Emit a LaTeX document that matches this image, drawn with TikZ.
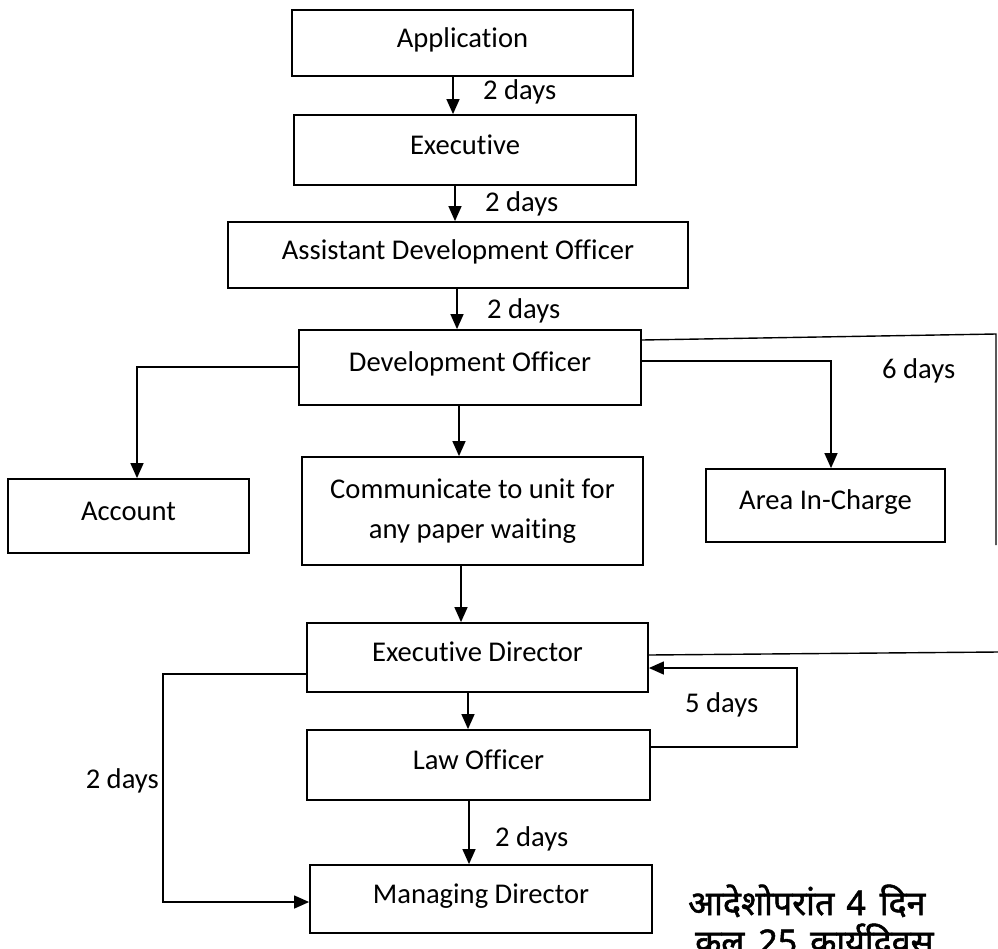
\documentclass[tikz,border=0pt]{standalone}
\usepackage{fontspec}
\setmainfont{Carlito}[Ligatures=NoCommon]
\newfontfamily\hindi[Script=Devanagari, FakeBold=1.6]{Noto Sans}
\usetikzlibrary{arrows.meta}
\begin{document}
\begin{tikzpicture}[x=1pt,y=-1pt,
  box/.style={draw, line width=1.8pt, inner sep=0pt, font=\fontsize{28.6}{34}\selectfont, text height=20pt, text depth=12pt},
  mbox/.style={draw, line width=1.8pt, inner sep=0pt, align=center, font=\fontsize{28.6}{40}\selectfont},
  conn/.style={line width=1.4pt},
  arr/.style={conn, -{Triangle[width=13pt,length=15pt]}},
  lab/.style={font=\fontsize{28.6}{34}\selectfont, inner sep=0pt},
  hlab/.style={font=\hindi\fontsize{34}{38}\selectfont, inner sep=0pt, anchor=base west}]
\useasboundingbox (0,0) rectangle (998,948);
\fill[white] (0,0) rectangle (998,948);

\node[box, minimum width=341pt, minimum height=66pt] (app) at (462.5,43) {Application};
\node[box, minimum width=342pt, minimum height=70pt] (exe) at (465,150) {Executive};
\node[box, minimum width=460pt, minimum height=66pt] (ado) at (458,255) {Assistant Development Officer};
\node[box, minimum width=342pt, minimum height=75pt] (do) at (470,367.5) {Development Officer};
\node[mbox, minimum width=341pt, minimum height=108pt] (comm) at (472.5,511) {Communicate to unit for\\any paper waiting};
\node[box, minimum width=241pt, minimum height=74pt] (acc) at (128.5,516) {Account};
\node[box, minimum width=239pt, minimum height=73pt] (area) at (825.5,505.5) {Area In-Charge};
\node[box, minimum width=341pt, minimum height=69pt] (ed) at (477.5,657.5) {Executive Director};
\node[box, minimum width=343pt, minimum height=70pt] (lo) at (478.5,765) {Law Officer};
\node[box, minimum width=342pt, minimum height=68pt] (md) at (481,899) {Managing Director};

% labels
\node[lab, anchor=west] (l1) at (483,92) {2 days};
\node[lab, anchor=west] (l2) at (485,204) {2 days};
\node[lab, anchor=west] (l3) at (487,311) {2 days};
\node[lab, anchor=west] (l4) at (882,371) {6 days};
\node[lab, anchor=west] (l5) at (685,705) {5 days};
\node[lab, anchor=west] (l6) at (495,839) {2 days};
\node[lab, anchor=east] (l7) at (159,781) {2 days};
\node[hlab] (h1) at (688,915) {आदेशोपरांत\hspace{12pt}4\hspace{14pt}दिन};
\node[hlab] (h2) at (695,954) {कुल\hspace{14pt}25\hspace{13pt}कार्यदिवस};

% connectors
\draw[arr] (453,0 |- app.south) -- (453,0 |- exe.north);
\draw[arr] (455,0 |- exe.south) -- (455,0 |- ado.north);
\draw[arr] (457,0 |- ado.south) -- (457,0 |- do.north);
\draw[arr] (459,0 |- do.south) -- (459,0 |- comm.north);
\draw[arr] (461,0 |- comm.south) -- (461,0 |- ed.north);
\draw[arr] (468,0 |- ed.south) -- (468,0 |- lo.north);
\draw[arr] (469,0 |- lo.south) -- (469,0 |- md.north);

\draw[arr] (do.west |- 0,367) -- (137,367) -- (137,0 |- acc.north);
\draw[arr] (do.east |- 0,361) -- (831,361) -- (831,0 |- area.north);

\coordinate (rtop) at (996,334);
\coordinate (rbot) at (996,545);
\coordinate (redge) at (998,652);
\draw[conn] (do.east |- 0,340) -- (rtop) -- (rbot);
\draw[conn] (ed.east |- 0,655) -- (redge);

\draw[arr] (lo.east |- 0,747) -- (797,747) -- (797,668) -- (ed.east |- 0,668);
\draw[arr] (ed.west |- 0,674) -- (163,674) -- (163,902) -- (md.west |- 0,902);
\end{tikzpicture}
\end{document}
